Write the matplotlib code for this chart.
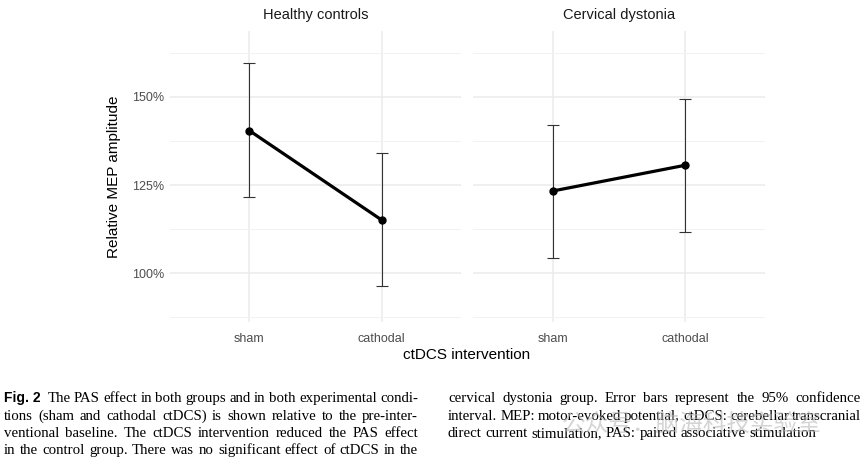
import numpy as np
import matplotlib
matplotlib.use("Agg")
import matplotlib.pyplot as plt

# values (relative MEP amplitude, %)
groups = ["Healthy controls", "Cervical dystonia"]
conditions = ["sham", "cathodal"]
means = [[140.4, 115.1], [123.3, 130.6]]
ci_low = [[121.7, 96.4], [104.4, 111.7]]
ci_high = [[159.6, 134.0], [142.1, 149.4]]
yticks = [100, 125, 150]
yminor = [87.5, 112.5, 137.5, 162.5]

caption_left = [
    "The PAS effect in both groups and in both experimental condi-",
    "tions (sham and cathodal ctDCS) is shown relative to the pre-inter-",
    "ventional baseline. The ctDCS intervention reduced the PAS effect",
    "in the control group. There was no significant effect of ctDCS in the",
]
caption_right = [
    "cervical dystonia group. Error bars represent the 95% confidence",
    "interval. MEP: motor-evoked potential, ctDCS: cerebellar transcranial",
    "direct current stimulation, PAS: paired associative stimulation",
]

plt.rcParams["font.family"] = ["Liberation Sans", "DejaVu Sans"]
W, H = 865, 459
fig = plt.figure(figsize=(W / 100, H / 100), dpi=100)

def px(x0, y0, x1, y1):
    return [x0 / W, 1 - y1 / H, (x1 - x0) / W, (y1 - y0) / H]

panels = [px(170, 31, 461, 321.7), px(473, 31, 765, 321.7)]
axes = []
for i, g in enumerate(groups):
    ax = fig.add_axes(panels[i])
    xs = np.arange(len(conditions))
    m = np.array(means[i])
    lo = m - np.array(ci_low[i])
    hi = np.array(ci_high[i]) - m
    ax.errorbar(xs, m, yerr=[lo, hi], fmt="none", ecolor="#333333",
                elinewidth=0.8, capsize=4.5, capthick=0.8, zorder=3)
    ax.plot(xs, m, color="black", lw=2.3, marker="o", ms=5, zorder=4)
    ax.set_xlim(-0.6, 1.6)
    ax.set_ylim(86.3, 168.6)
    ax.set_xticks(xs)
    ax.set_xticklabels(conditions)
    ax.set_yticks(yticks)
    ax.set_yticks(yminor, minor=True)
    ax.yaxis.set_major_formatter(matplotlib.ticker.FuncFormatter(lambda v, p: f"{v:.0f}%"))
    ax.grid(True, which="major", color="#ebebeb", lw=1.1)
    ax.grid(True, which="minor", axis="y", color="#f2f2f2", lw=0.7)
    ax.set_axisbelow(True)
    for s in ax.spines.values():
        s.set_visible(False)
    ax.tick_params(which="both", length=0, labelsize=9, colors="#4d4d4d", pad=8)
    ax.tick_params(axis="y", pad=4)
    if i == 1:
        ax.set_yticklabels([])
    ax.set_title(g, fontsize=10.5, color="#1a1a1a", pad=9)
    axes.append(ax)

axes[0].set_ylabel("Relative MEP amplitude", fontsize=11, labelpad=8)
fig.text(467 / W, 1 - 355 / H, "ctDCS intervention", fontsize=11,
         ha="center", va="center")

# caption, justified by hand
renderer = fig.canvas.get_renderer()
serif = ["Liberation Serif", "DejaVu Serif"]
cap_fs = 10.7

def measure(s, fs):
    t = fig.text(0, 0, s, fontsize=fs, family=serif)
    w = t.get_window_extent(renderer).width
    t.remove()
    return w

def put_line(line, x0, x1, y, justify=True):
    words = line.split(" ")
    fs = cap_fs
    sw = measure("a a", fs) - 2 * measure("a", fs)
    widths = [measure(w, fs) for w in words]
    gap = (x1 - x0 - sum(widths)) / (len(words) - 1)
    while justify and gap < 0.6 * sw:
        fs -= 0.2
        sw = measure("a a", fs) - 2 * measure("a", fs)
        widths = [measure(w, fs) for w in words]
        gap = (x1 - x0 - sum(widths)) / (len(words) - 1)
    if not justify:
        gap = sw
    x = x0
    for w, wd in zip(words, widths):
        fig.text(x / W, 1 - y / H, w, fontsize=fs, family=serif, va="baseline")
        x += wd + gap

line_y = [402, 420, 437, 454]
fig_lbl = fig.text(4 / W, 1 - line_y[0] / H, "Fig. 2", fontsize=10,
                   weight="bold", va="baseline")
lbl_w = fig_lbl.get_window_extent(renderer).width
put_line(caption_left[0], 4 + lbl_w + 7, 418, line_y[0])
for k in range(1, 4):
    put_line(caption_left[k], 4, 418, line_y[k])
put_line(caption_right[0], 448, 861, line_y[0])
put_line(caption_right[1], 448, 861, line_y[1])
put_line(caption_right[2], 448, 861, line_y[2], justify=False)

# faint watermark
fig.text(562 / W, 1 - 424 / H, "公众号：脑海科技实验室", fontsize=17, color="#b8b8b8",
         alpha=0.6, va="center", family=["Noto Sans CJK SC", "DejaVu Sans"])

fig.savefig("out.png", dpi=100)
